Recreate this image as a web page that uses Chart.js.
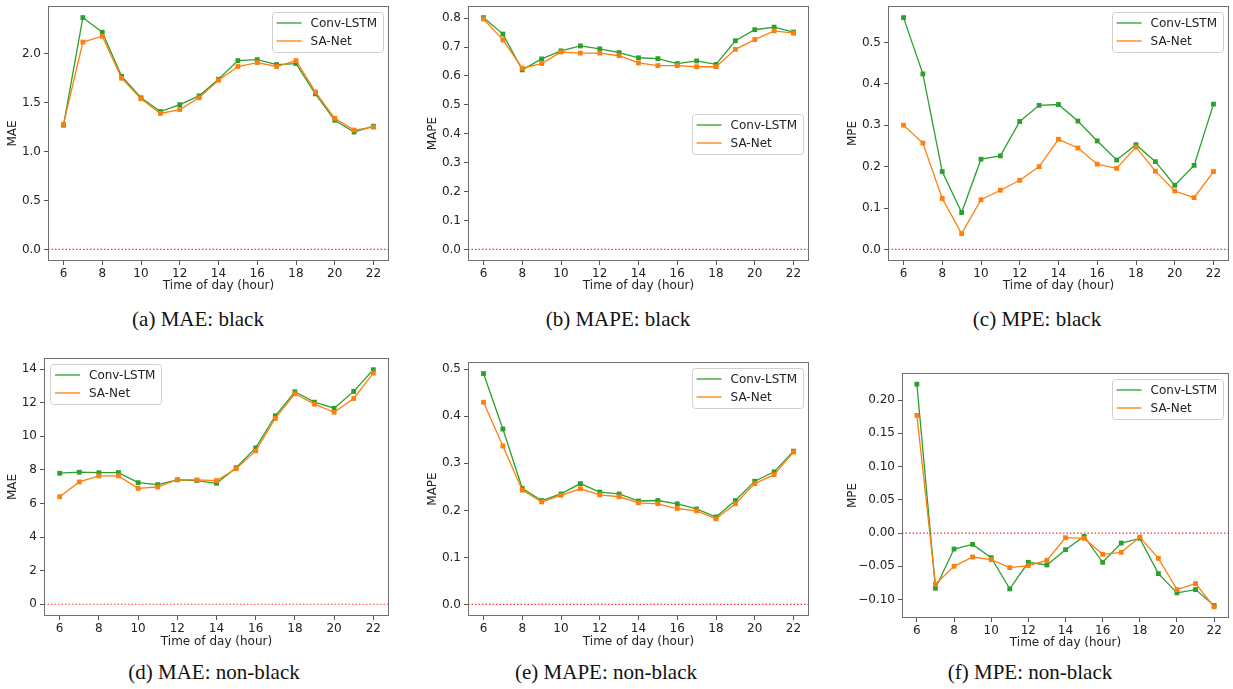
<!DOCTYPE html>
<html>
<head>
<meta charset="utf-8">
<script src="https://cdn.jsdelivr.net/npm/chart.js@4.4.1/dist/chart.umd.min.js"></script>
<style>
  html, body { margin: 0; padding: 0; background: #fff; }
  body { width: 1233px; height: 689px; position: relative; overflow: hidden; }
  canvas { position: absolute; }
  .caption {
    position: absolute;
    font-family: "Liberation Serif", "Times New Roman", serif;
    font-size: 21px;
    line-height: 21px;
    color: #111;
    white-space: nowrap;
    transform: translateX(-50%);
  }
</style>
</head>
<body>
<script>
// hours on the x axis, shared by all six panels
const hours = [6, 7, 8, 9, 10, 11, 12, 13, 14, 15, 16, 17, 18, 19, 20, 21, 22];
const xTicks = [6, 8, 10, 12, 14, 16, 18, 20, 22];
const seriesNames = ["Conv-LSTM", "SA-Net"];

// (a) MAE: black
const maeBlackConv = [1.27, 2.37, 2.22, 1.77, 1.55, 1.41, 1.48, 1.57, 1.74, 1.93, 1.94, 1.89, 1.90, 1.59, 1.32, 1.20, 1.26];
const maeBlackSA = [1.28, 2.12, 2.18, 1.75, 1.54, 1.39, 1.43, 1.55, 1.73, 1.87, 1.91, 1.87, 1.93, 1.61, 1.34, 1.22, 1.25];
const maeBlackTicks = [0, 0.5, 1, 1.5, 2];
const maeBlackLabels = ["0.0", "0.5", "1.0", "1.5", "2.0"];

// (b) MAPE: black
const mapeBlackConv = [0.802, 0.745, 0.621, 0.659, 0.687, 0.704, 0.694, 0.681, 0.663, 0.660, 0.643, 0.652, 0.640, 0.722, 0.760, 0.769, 0.752];
const mapeBlackSA = [0.797, 0.725, 0.627, 0.643, 0.683, 0.679, 0.679, 0.670, 0.645, 0.636, 0.636, 0.632, 0.632, 0.692, 0.726, 0.756, 0.748];
const mapeBlackTicks = [0, 0.1, 0.2, 0.3, 0.4, 0.5, 0.6, 0.7, 0.8];
const mapeBlackLabels = ["0.0", "0.1", "0.2", "0.3", "0.4", "0.5", "0.6", "0.7", "0.8"];

// (c) MPE: black
const mpeBlackConv = [0.560, 0.424, 0.188, 0.089, 0.218, 0.226, 0.309, 0.348, 0.350, 0.310, 0.262, 0.216, 0.253, 0.212, 0.155, 0.203, 0.351];
const mpeBlackSA = [0.300, 0.257, 0.123, 0.038, 0.120, 0.143, 0.167, 0.200, 0.266, 0.245, 0.206, 0.196, 0.247, 0.189, 0.141, 0.125, 0.188];
const mpeBlackTicks = [0, 0.1, 0.2, 0.3, 0.4, 0.5];
const mpeBlackLabels = ["0.0", "0.1", "0.2", "0.3", "0.4", "0.5"];

// (d) MAE: non-black
const maeNonConv = [7.80, 7.86, 7.83, 7.84, 7.24, 7.12, 7.40, 7.36, 7.20, 8.13, 9.31, 11.22, 12.65, 12.03, 11.67, 12.67, 13.96];
const maeNonSA = [6.40, 7.28, 7.64, 7.64, 6.90, 6.98, 7.42, 7.40, 7.36, 8.07, 9.13, 11.06, 12.53, 11.91, 11.43, 12.25, 13.76];
const maeNonTicks = [0, 2, 4, 6, 8, 10, 12, 14];
const maeNonLabels = ["0", "2", "4", "6", "8", "10", "12", "14"];

// (e) MAPE: non-black
const mapeNonConv = [0.491, 0.373, 0.247, 0.221, 0.235, 0.257, 0.239, 0.235, 0.220, 0.221, 0.214, 0.203, 0.186, 0.221, 0.262, 0.282, 0.326];
const mapeNonSA = [0.430, 0.337, 0.243, 0.218, 0.232, 0.246, 0.233, 0.229, 0.216, 0.214, 0.204, 0.199, 0.182, 0.214, 0.257, 0.276, 0.324];
const mapeNonTicks = [0, 0.1, 0.2, 0.3, 0.4, 0.5];
const mapeNonLabels = ["0.0", "0.1", "0.2", "0.3", "0.4", "0.5"];

// (f) MPE: non-black
const mpeNonConv = [0.224, -0.083, -0.024, -0.017, -0.037, -0.084, -0.044, -0.048, -0.025, -0.005, -0.044, -0.015, -0.008, -0.061, -0.090, -0.085, -0.109];
const mpeNonSA = [0.177, -0.077, -0.050, -0.036, -0.040, -0.052, -0.049, -0.041, -0.007, -0.008, -0.032, -0.029, -0.006, -0.038, -0.085, -0.076, -0.111];
const mpeNonTicks = [-0.10, -0.05, 0, 0.05, 0.10, 0.15, 0.20];
const mpeNonLabels = ["\u22120.10", "\u22120.05", "0.00", "0.05", "0.10", "0.15", "0.20"];

const GREEN = "#2ca02c";
const ORANGE = "#ff7f0e";
const TEXT = "#222";
const FONT = '"DejaVu Sans", sans-serif';

// plot rectangles are where the axes frame sits in the 1233x689 picture
const panels = [
  { yLabel: "MAE", conv: maeBlackConv, sa: maeBlackSA, ticks: maeBlackTicks, labels: maeBlackLabels, loc: "ur",
    plot: { l: 48, t: 6, r: 389, b: 261 }, yTitleX: 13, xTitleY: 286, top: -14, caption: "(a) MAE: black", capX: 198, capY: 309 },
  { yLabel: "MAPE", conv: mapeBlackConv, sa: mapeBlackSA, ticks: mapeBlackTicks, labels: mapeBlackLabels, loc: "cr",
    plot: { l: 468, t: 6, r: 809, b: 261 }, yTitleX: 433, xTitleY: 286, top: -14, caption: "(b) MAPE: black", capX: 618, capY: 309 },
  { yLabel: "MPE", conv: mpeBlackConv, sa: mpeBlackSA, ticks: mpeBlackTicks, labels: mpeBlackLabels, loc: "ur",
    plot: { l: 888, t: 6, r: 1229, b: 261 }, yTitleX: 853, xTitleY: 286, top: -14, caption: "(c) MPE: black", capX: 1037, capY: 309 },
  { yLabel: "MAE", conv: maeNonConv, sa: maeNonSA, ticks: maeNonTicks, labels: maeNonLabels, loc: "ul",
    plot: { l: 44, t: 358, r: 389, b: 616 }, yTitleX: 13, xTitleY: 642, top: 336, caption: "(d) MAE: non-black", capX: 214, capY: 662 },
  { yLabel: "MAPE", conv: mapeNonConv, sa: mapeNonSA, ticks: mapeNonTicks, labels: mapeNonLabels, loc: "ur",
    plot: { l: 468, t: 362, r: 809, b: 616 }, yTitleX: 433, xTitleY: 642, top: 336, caption: "(e) MAPE: non-black", capX: 606, capY: 662 },
  { yLabel: "MPE", conv: mpeNonConv, sa: mpeNonSA, ticks: mpeNonTicks, labels: mpeNonLabels, loc: "ur",
    plot: { l: 902, t: 373, r: 1229, b: 618 }, yTitleX: 853, xTitleY: 643, top: 336, caption: "(f) MPE: non-black", capX: 1030, capY: 662 },
];

// axes frame on all four sides, drawn over the lines like matplotlib spines
const frame = {
  id: "frame",
  afterDraw(chart) {
    const { ctx, chartArea: a } = chart;
    ctx.save();
    ctx.strokeStyle = "#6f6f6f";
    ctx.lineWidth = 1;
    ctx.strokeRect(Math.round(a.left) + 0.5, Math.round(a.top) + 0.5,
      Math.round(a.right) - Math.round(a.left) - 1, Math.round(a.bottom) - Math.round(a.top) - 1);
    ctx.restore();
  },
};

// matplotlib-style legend box inside the axes, entries in seriesNames order
const legendBox = {
  id: "legendBox",
  afterDraw(chart, args, opts) {
    const { ctx, chartArea: a } = chart;
    const items = seriesNames.map((n) => chart.data.datasets.find((d) => d.label === n));
    ctx.save();
    ctx.font = "12px " + FONT;
    const textW = Math.max(...items.map((d) => ctx.measureText(d.label).width));
    const w = 5 + 25 + 9 + textW + 6;
    const h = 40;
    const x = opts.loc === "ul" ? a.left + 6 : a.right - 6 - w;
    const y = opts.loc === "cr" ? (a.top + a.bottom) / 2 - h / 2 : a.top + 6;
    ctx.beginPath();
    ctx.roundRect(Math.round(x) + 0.5, Math.round(y) + 0.5, Math.round(w), h, 3);
    ctx.fillStyle = "rgba(255,255,255,0.8)";
    ctx.fill();
    ctx.strokeStyle = "#d0d0d0";
    ctx.lineWidth = 1;
    ctx.stroke();
    items.forEach((d, i) => {
      const cy = Math.round(y + 11 + i * 18);
      ctx.beginPath();
      ctx.moveTo(x + 5, cy);
      ctx.lineTo(x + 30, cy);
      ctx.strokeStyle = d.borderColor;
      ctx.lineWidth = 1.3;
      ctx.stroke();
      ctx.fillStyle = TEXT;
      ctx.textBaseline = "middle";
      ctx.textAlign = "left";
      ctx.fillText(d.label, x + 39, cy + 1);
    });
    ctx.restore();
  },
};

function makePanel(p) {
  const left = Math.round(p.yTitleX - 7);
  const right = p.plot.r + 10;
  const bottom = Math.round(p.xTitleY + 7);
  const yw = p.plot.l - left;
  const xh = bottom - p.plot.b;

  const canvas = document.createElement("canvas");
  canvas.width = right - left;
  canvas.height = bottom - p.top;
  canvas.style.left = left + "px";
  canvas.style.top = p.top + "px";
  canvas.style.width = canvas.width + "px";
  canvas.style.height = canvas.height + "px";
  document.body.appendChild(canvas);

  const cap = document.createElement("div");
  cap.className = "caption";
  cap.textContent = p.caption;
  cap.style.left = p.capX + "px";
  cap.style.top = p.capY + "px";
  document.body.appendChild(cap);

  // matplotlib autoscale: data plus the y=0 line, 5% margins
  const all = p.conv.concat(p.sa, [0]);
  const lo = Math.min(...all), hi = Math.max(...all);
  const m = (hi - lo) * 0.05;

  const toPts = (arr) => arr.map((v, i) => ({ x: hours[i], y: v }));
  const series = (label, color, data, order) => ({
    label, data: toPts(data), order,
    borderColor: color, backgroundColor: color, borderWidth: 1.3,
    pointStyle: "rect", pointRadius: 3.4, pointBorderWidth: 0, pointBackgroundColor: color,
    tension: 0,
  });

  const tickStyle = { font: { family: FONT, size: 12 }, color: TEXT };
  const gridStyle = { display: true, drawOnChartArea: false, drawTicks: true, tickLength: 4, tickColor: "#555", tickWidth: 1 };

  new Chart(canvas, {
    type: "line",
    data: {
      datasets: [
        {
          label: "zero", data: [{ x: 5.2, y: 0 }, { x: 22.8, y: 0 }], order: 0,
          borderColor: "rgba(255,30,30,0.9)", borderWidth: 1.2, borderDash: [1.5, 2], pointRadius: 0,
        },
        series(seriesNames[1], ORANGE, p.sa, 1),
        series(seriesNames[0], GREEN, p.conv, 2),
      ],
    },
    options: {
      responsive: false,
      animation: false,
      devicePixelRatio: 1,
      layout: { padding: { left: 0, top: p.plot.t - p.top, right: right - p.plot.r, bottom: 0 } },
      plugins: {
        legend: { display: false },
        tooltip: { enabled: false },
        legendBox: { loc: p.loc },
      },
      scales: {
        x: {
          type: "linear", min: 5.2, max: 22.8,
          afterBuildTicks: (s) => { s.ticks = xTicks.map((v) => ({ value: v })); },
          afterFit: (s) => { s.height = xh; },
          ticks: { ...tickStyle, autoSkip: false, maxRotation: 0, padding: 2, callback: (v) => String(v) },
          grid: gridStyle,
          border: { display: false },
          title: { display: true, text: "Time of day (hour)", font: { family: FONT, size: 12 }, color: TEXT, padding: 0 },
        },
        y: {
          type: "linear", min: lo - m, max: hi + m,
          afterBuildTicks: (s) => { s.ticks = p.ticks.map((v) => ({ value: v })); },
          afterFit: (s) => { s.width = yw; },
          ticks: {
            ...tickStyle, autoSkip: false, padding: 3,
            callback: (v) => p.labels[p.ticks.findIndex((t) => Math.abs(t - v) < 1e-9)],
          },
          grid: gridStyle,
          border: { display: false },
          title: { display: true, text: p.yLabel, font: { family: FONT, size: 12 }, color: TEXT, padding: 0 },
        },
      },
    },
    plugins: [frame, legendBox],
  });
}

panels.forEach(makePanel);
</script>
</body>
</html>
